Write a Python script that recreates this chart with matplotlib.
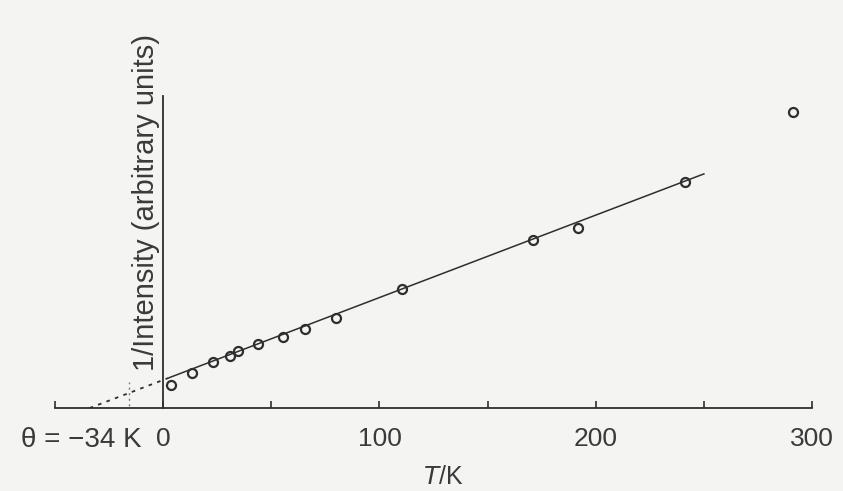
import numpy as np
import matplotlib
matplotlib.use("Agg")
import matplotlib.pyplot as plt

plt.rcParams['font.family'] = ['Liberation Sans', 'DejaVu Sans']

# measured points: temperature (K) and 1/intensity (arbitrary units)
T = [3.7, 13.4, 23.1, 31.0, 34.7, 43.9, 55.5, 65.6, 80.0, 110.5, 171.0, 191.9, 241.3, 291.3]
inv_I = [10.6, 16.2, 21.3, 24.0, 26.4, 29.6, 32.8, 36.5, 41.6, 55.0, 77.7, 83.2, 104.5, 136.8]

# Curie-Weiss fit line
theta = -34
slope = 0.381
fit_start = 3
fit_end = 250
marker_T = -16  # small dotted mark near the intercept

tick_pos = [-50, 0, 50, 100, 150, 200, 250, 300]
tick_lab = ['', '0', '', '100', '', '200', '', '300']

ink = '#2e2e2e'
text_col = '#3a3a3a'
paper = '#f4f4f2'

fig = plt.figure(figsize=(8.43, 4.91), dpi=100, facecolor=paper)
ax = fig.add_axes([0.0524, 0.169, 0.9237, 0.661], facecolor=paper)

# fit: solid over the data, dotted extrapolation to theta
x_solid = np.array([fit_start, fit_end])
x_dot = np.array([theta, fit_start])
ax.plot(x_solid, slope * (x_solid - theta), color=ink, lw=1.1)
ax.plot(x_dot, slope * (x_dot - theta), color=ink, lw=1.3, ls=(0, (2, 3)))
ax.plot([marker_T, marker_T], [-4, 12], color='#777777', lw=1.0, ls=(0, (1.5, 2.5)))

ax.plot(T, inv_I, 'o', ms=6.5, mfc='none', mec=ink, mew=1.6, clip_on=False)

ax.set_xlim(-55, 305)
ax.set_ylim(0, 150)

for s in ['top', 'right']:
    ax.spines[s].set_visible(False)
ax.spines['bottom'].set_position(('data', 0))
ax.spines['bottom'].set_bounds(-50, 300)
ax.spines['left'].set_position(('data', 0))
ax.spines['left'].set_bounds(0, 144)
for s in ['bottom', 'left']:
    ax.spines[s].set_color(ink)
    ax.spines[s].set_linewidth(1.3)

ax.set_xticks(tick_pos)
ax.set_xticklabels(tick_lab)
ax.tick_params(axis='x', direction='in', length=5, width=1.2, color=ink,
               pad=14, labelsize=19, labelcolor=text_col)
ax.set_yticks([])

ax.text(-10, -14.8, 'θ = −34 K', ha='right', va='center', fontsize=20,
        color=text_col, clip_on=False)
ax.text(129.5, -26.5, '$T$/K', ha='center', va='top', fontsize=18,
        color=text_col, clip_on=False)
ax.text(-7.8, 95, '1/Intensity (arbitrary units)', rotation=90, ha='center',
        va='center', fontsize=21, color=text_col, clip_on=False)

fig.savefig('out.png', dpi=100, facecolor=paper)
